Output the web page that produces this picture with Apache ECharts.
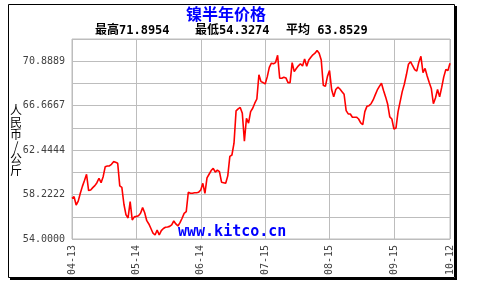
<!DOCTYPE html>
<html><head><meta charset="utf-8">
<script src="https://cdn.jsdelivr.net/npm/echarts@6/dist/echarts.min.js"></script>
<style>html,body{margin:0;padding:0;background:#fff}#c{width:479px;height:285px}</style>
</head><body><div id="c"></div>
<script>
// ---- data ----
const startDate = '2014-04-13';
const dayCount = 183;
const xTickLabels = ['04-13', '05-14', '06-14', '07-15', '08-15', '09-15', '10-12'];
const yTickLabels = ['54.0000', '58.2222', '62.4444', '66.6667', '70.8889'];
const prices = [
  57.87, 58.02, 57.23, 57.6, 58.34, 59.0, 59.55, 60.15, 58.6, 58.66,
  58.88, 59.07, 59.35, 59.77, 59.35, 59.92, 60.87, 60.94, 60.94, 61.1,
  61.35, 61.29, 61.2, 59.04, 58.9, 57.3, 56.3, 56.0, 57.55, 55.81,
  56.1, 56.15, 56.21, 56.44, 56.98, 56.5, 55.74, 55.43, 55.0, 54.55,
  54.38, 54.86, 54.38, 54.8, 55.0, 55.11, 55.14, 55.2, 55.35, 55.71,
  55.43, 55.24, 55.55, 55.97, 56.44, 56.6, 58.44, 58.34, 58.34, 58.4,
  58.4, 58.45, 58.66, 59.29, 58.34, 59.8, 60.15, 60.5, 60.72, 60.35,
  60.55, 60.4, 59.4, 59.35, 59.29, 60.0, 61.85, 61.98, 63.1, 66.17,
  66.36, 66.5, 65.95, 63.3, 65.47, 65.0, 66.1, 66.42, 66.9, 67.3,
  69.6, 68.95, 68.86, 68.73, 69.4, 70.3, 70.7, 70.65, 70.76, 71.45,
  69.27, 69.27, 69.37, 69.3, 68.86, 68.86, 70.76, 69.9, 70.2, 70.45,
  70.65, 70.44, 71.1, 70.4, 71.0, 71.27, 71.5, 71.65, 71.9, 71.65,
  71.0, 68.6, 68.5, 69.45, 70.0, 68.2, 67.5, 68.2, 68.42, 68.25,
  68.0, 67.75, 66.2, 65.88, 65.88, 65.57, 65.57, 65.57, 65.4, 65.03,
  64.86, 66.1, 66.6, 66.67, 66.85, 67.21, 67.69, 68.16, 68.5, 68.8,
  68.1, 67.5, 66.8, 65.6, 65.4, 64.45, 64.55, 66.1, 67.05, 68.0,
  68.7, 69.6, 70.6, 70.85, 70.46, 70.1, 69.95, 70.8, 71.35, 69.8,
  70.2, 69.49, 68.86, 68.3, 66.85, 67.4, 68.2, 67.5, 68.4, 69.4,
  70.1, 70.0, 70.7
];
const titleText = '镍半年价格';
const statTexts = ['最高71.8954', '最低54.3274', '平均 63.8529'];
const unitText = '人民币/公斤';
const watermarkText = 'www.kitco.cn';

// ---- build categories (one per calendar day) ----
const categories = [];
const base = new Date(startDate + 'T00:00:00Z').getTime();
for (let i = 0; i < dayCount; i++) {
  const d = new Date(base + i * 86400000);
  categories.push(String(d.getUTCMonth() + 1).padStart(2, '0') + '-' + String(d.getUTCDate()).padStart(2, '0'));
}

const monoFont = '"DejaVu Sans Mono", "Noto Sans CJK SC", monospace';
const gridColor = '#bdbdbd';
const chart = echarts.init(document.getElementById('c'), null, {renderer: 'canvas'});
chart.setOption({
  animation: false,
  backgroundColor: '#ffffff',
  grid: {left: 72, top: 39, width: 378, height: 200, show: true, borderColor: gridColor, borderWidth: 1},
  xAxis: {
    type: 'category', data: categories, boundaryGap: false,
    axisLine: {show: false}, axisTick: {show: false},
    axisLabel: {
      interval: (i, v) => xTickLabels.includes(v),
      rotate: 90, color: '#404040', fontFamily: monoFont, fontSize: 10, margin: 6
    },
    splitLine: {show: true, interval: (i, v) => xTickLabels.includes(v), lineStyle: {color: gridColor, width: 1}}
  },
  yAxis: {
    type: 'value', min: 54, max: 73, interval: 19 / 9,
    axisLine: {show: false}, axisTick: {show: false},
    axisLabel: {
      formatter: v => (yTickLabels.includes(v.toFixed(4)) ? v.toFixed(4) : ''),
      color: '#404040', fontFamily: monoFont, fontSize: 10, margin: 7
    },
    splitLine: {show: true, lineStyle: {color: gridColor, width: 1}}
  },
  series: [{
    type: 'line', data: prices, symbol: 'none', showSymbol: false,
    lineStyle: {color: '#ff0000', width: 1.6}, itemStyle: {color: '#ff0000'}
  }],
  graphic: [
    {type: 'rect', silent: true, shape: {x: 8.5, y: 4.5, width: 446, height: 273}, style: {fill: null, stroke: '#000', lineWidth: 1}},
    {type: 'rect', silent: true, shape: {x: 455, y: 6, width: 2, height: 274}, style: {fill: '#000'}},
    {type: 'rect', silent: true, shape: {x: 10, y: 278, width: 447, height: 2}, style: {fill: '#000'}},
    {type: 'text', z: 10, x: 226, y: 14, style: {text: titleText, textAlign: 'center', textVerticalAlign: 'middle', font: 'bold 16px "Noto Sans CJK SC"', fill: '#0000ff'}},
    {type: 'text', z: 10, x: 95, y: 31, style: {text: statTexts[0], textAlign: 'left', textVerticalAlign: 'middle', font: 'bold 12px ' + monoFont, fill: '#000'}},
    {type: 'text', z: 10, x: 195, y: 31, style: {text: statTexts[1], textAlign: 'left', textVerticalAlign: 'middle', font: 'bold 12px ' + monoFont, fill: '#000'}},
    {type: 'text', z: 10, x: 286, y: 31, style: {text: statTexts[2], textAlign: 'left', textVerticalAlign: 'middle', font: 'bold 12px ' + monoFont, fill: '#000'}},
    {type: 'text', z: 10, x: 16, y: 140, style: {text: unitText.split('').join('\n'), textAlign: 'center', textVerticalAlign: 'middle', font: '12px "Noto Sans CJK SC"', lineHeight: 12, fill: '#000'}},
    {type: 'text', z: 100, x: 178, y: 232, style: {text: watermarkText, textAlign: 'left', textVerticalAlign: 'middle', font: 'bold 15px ' + monoFont, fill: '#0000ff'}}
  ]
});
</script>
</body></html>
